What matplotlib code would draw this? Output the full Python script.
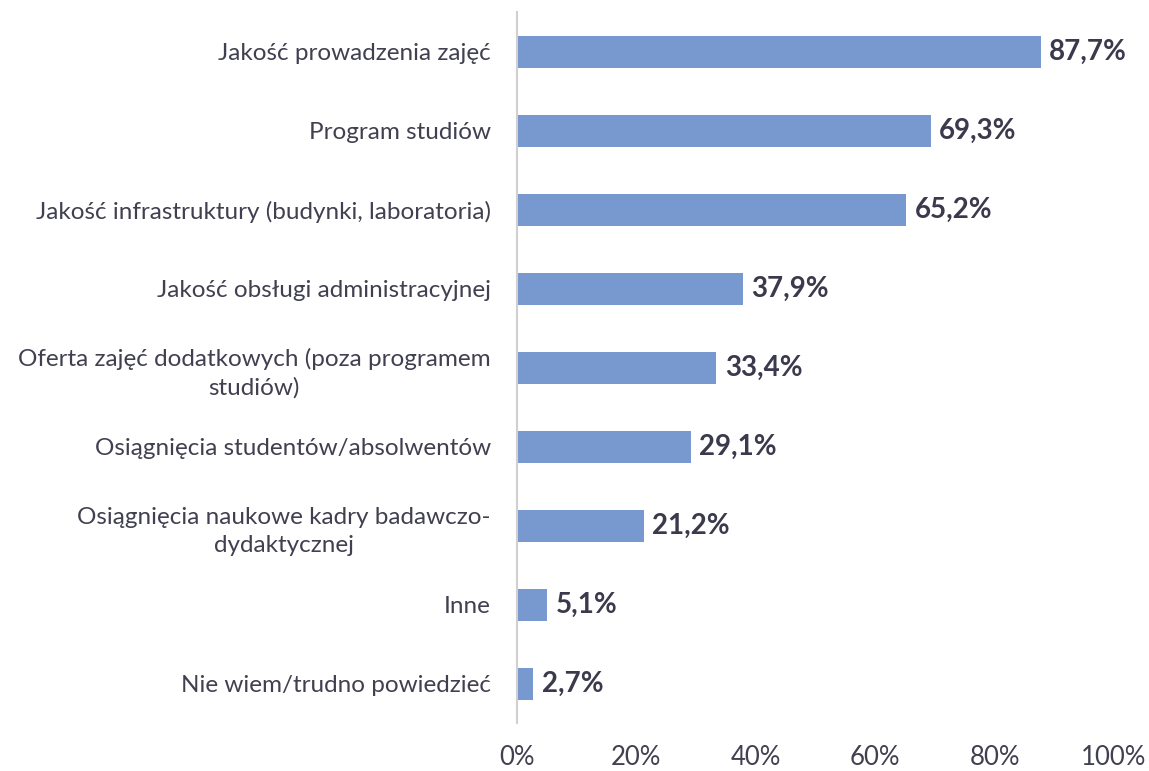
import matplotlib.pyplot as plt
from matplotlib.ticker import FuncFormatter

plt.rcParams['font.family'] = ['Lato', 'DejaVu Sans']

# --- Data ---
categories = [
    "Jakość prowadzenia zajęć",
    "Program studiów",
    "Jakość infrastruktury (budynki, laboratoria)",
    "Jakość obsługi administracyjnej",
    "Oferta zajęć dodatkowych (poza programem\nstudiów)",
    "Osiągnięcia studentów/absolwentów",
    "Osiągnięcia naukowe kadry badawczo-\ndydaktycznej",
    "Inne",
    "Nie wiem/trudno powiedzieć",
]
values = [87.7, 69.3, 65.2, 37.9, 33.4, 29.1, 21.2, 5.1, 2.7]
x_ticks = [0, 20, 40, 60, 80, 100]

bar_color = '#7899D0'
text_color = '#404050'

fig = plt.figure(figsize=(11.49, 7.71), dpi=100)
ax = fig.add_axes([0.45, 0.062, 0.5195, 0.922])

y = list(range(len(categories)))
ax.barh(y, values, height=0.4, color=bar_color)
ax.set_ylim(len(categories) - 0.5, -0.5)
ax.set_xlim(0, 100)

# value labels
for yi, v in zip(y, values):
    ax.text(v + 1.4, yi, f"{v:.1f}%".replace('.', ','), va='center', ha='left',
            fontsize=20, fontweight='bold', color='#3A3A4C')

ax.set_yticks(y)
ax.set_yticklabels(categories, fontsize=17.5, color=text_color, ha='right',
                   multialignment='center', linespacing=1.4)
ax.set_xticks(x_ticks)
ax.xaxis.set_major_formatter(FuncFormatter(lambda v, p: f"{int(v)}%"))
ax.tick_params(axis='x', labelsize=18.5, colors=text_color, length=0, pad=16)
ax.tick_params(axis='y', length=0, pad=19)

for s in ['top', 'right', 'bottom']:
    ax.spines[s].set_visible(False)
ax.spines['left'].set_color('#D0D0D0')
ax.spines['left'].set_linewidth(1.5)

fig.savefig('out.png', dpi=100)
